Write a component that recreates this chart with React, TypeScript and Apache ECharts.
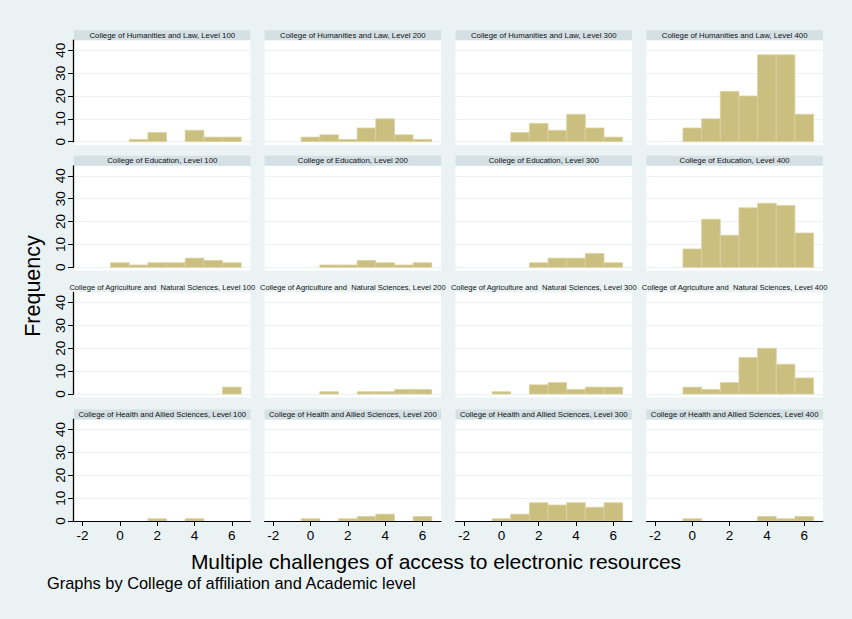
import React, { useEffect, useRef } from "react";
import * as echarts from "echarts";

// ---- data (bins centred on integers 0..6, width 1) ----
const bins = [0, 1, 2, 3, 4, 5, 6];
const levels = ["100", "200", "300", "400"];
const colleges = [
  "College of Humanities and Law",
  "College of Education",
  "College of Agriculture and  Natural Sciences",
  "College of Health and Allied Sciences",
];
const humanities = [
  [0, 1, 4, 0, 5, 2, 2],
  [2, 3, 1, 6, 10, 3, 1],
  [0, 4, 8, 5, 12, 6, 2],
  [6, 10, 22, 20, 38, 38, 12],
];
const education = [
  [2, 1, 2, 2, 4, 3, 2],
  [0, 1, 1, 3, 2, 1, 2],
  [0, 0, 2, 4, 4, 6, 2],
  [8, 21, 14, 26, 28, 27, 15],
];
const agriculture = [
  [0, 0, 0, 0, 0, 0, 3],
  [0, 1, 0, 1, 1, 2, 2],
  [1, 0, 4, 5, 2, 3, 3],
  [3, 2, 5, 16, 20, 13, 7],
];
const health = [
  [0, 0, 1, 0, 1, 0, 0],
  [1, 0, 1, 2, 3, 0, 2],
  [1, 3, 8, 7, 8, 6, 8],
  [1, 0, 0, 0, 2, 1, 2],
];
const counts = [humanities, education, agriculture, health];
const yTicks = [0, 10, 20, 30, 40];
const xTicks = [-2, 0, 2, 4, 6];

const xTitle = "Multiple challenges of access to electronic resources";
const yTitle = "Frequency";
const note = "Graphs by College of affiliation and Academic level";

// ---- layout / style ----
const FONT = "'Liberation Sans', Arial, sans-serif";
const colLefts = [74, 264.6, 455.5, 646.4];
const zeroYs = [141.7, 267.3, 394, 521];
const panelW = 176.5;
const panelH = 101.5;
const stripH = 10;
const BG = "#EAF2F3";
const STRIP = "#D5E0E5";
const BAR = "#CBBF7F";
const BAR_EDGE = "#DAD2A2";

export default function App() {
  const ref = useRef<HTMLDivElement>(null);
  useEffect(() => {
    if (!ref.current) return;
    const chart = echarts.init(ref.current, undefined, { renderer: "svg" });
    const grids: any[] = [];
    const xAxes: any[] = [];
    const yAxes: any[] = [];
    const series: any[] = [];
    const graphics: any[] = [];
    let idx = 0;
    for (let r = 0; r < 4; r++) {
      for (let c = 0; c < 4; c++) {
        const left = colLefts[c];
        const top = zeroYs[r] - panelH;
        grids.push({
          left,
          top,
          width: panelW,
          height: panelH,
          show: true,
          backgroundColor: "#fff",
          borderWidth: 0,
          containLabel: false,
        });
        const bottomRow = r === 3;
        xAxes.push({
          type: "value",
          gridIndex: idx,
          min: -2.46,
          max: 7.0,
          z: 7,
          show: bottomRow,
          axisLine: {
            show: bottomRow,
            onZero: false,
            lineStyle: { color: "#000", width: 1 },
          },
          axisTick: {
            show: bottomRow,
            customValues: xTicks,
            length: 5,
            lineStyle: { color: "#000" },
          },
          axisLabel: {
            show: bottomRow,
            customValues: xTicks,
            fontSize: 13.5,
            color: "#000",
            fontFamily: FONT,
            margin: 7,
          },
          splitLine: { show: false },
        });
        const leftCol = c === 0;
        yAxes.push({
          type: "value",
          gridIndex: idx,
          position: "left",
          offset: 1,
          min: 0,
          max: 44.4,
          interval: 10,
          z: 5,
          axisLine: {
            show: leftCol,
            onZero: false,
            lineStyle: { color: "#000", width: 1.3 },
          },
          axisTick: {
            show: leftCol,
            customValues: yTicks,
            length: 5,
            lineStyle: { color: "#000" },
          },
          axisLabel: {
            show: leftCol,
            customValues: yTicks,
            rotate: 90,
            fontSize: 13.5,
            color: "#000",
            fontFamily: FONT,
            margin: 6,
          },
          splitLine: { show: true, lineStyle: { color: BG, width: 1 } },
        });
        const vals = counts[r][c];
        const data = bins
          .map((b, i) => [b, vals[i]])
          .filter((d) => d[1] > 0);
        series.push({
          type: "custom",
          xAxisIndex: idx,
          yAxisIndex: idx,
          z: 6,
          data,
          renderItem: (params: any, api: any) => {
            const x = api.value(0);
            const y = api.value(1);
            const p1 = api.coord([x - 0.5, y]);
            const p2 = api.coord([x + 0.5, 0]);
            return {
              type: "rect",
              shape: {
                x: p1[0],
                y: p1[1],
                width: p2[0] - p1[0],
                height: p2[1] - p1[1],
              },
              style: { fill: BAR, stroke: BAR_EDGE, lineWidth: 0.8 },
            };
          },
        });
        if (!bottomRow) {
          graphics.push({
            type: "rect",
            shape: { x: left, y: zeroYs[r], width: panelW, height: 3.5 },
            style: { fill: "#fff" },
            silent: true,
          });
        }
        if (r !== 2) {
          graphics.push({
            type: "rect",
            shape: { x: left, y: top - stripH, width: panelW, height: stripH },
            style: { fill: STRIP },
            silent: true,
          });
        }
        graphics.push({
          type: "text",
          x: left + panelW / 2,
          y: top - stripH / 2,
          style: {
            text: `${colleges[r]}, Level ${levels[c]}`,
            fontSize: r === 2 ? 7.6 : 7.8,
            fontFamily: FONT,
            fill: "#111",
            align: "center",
            verticalAlign: "middle",
          },
          silent: true,
        });
        idx++;
      }
    }
    graphics.push({
      type: "text",
      x: 33,
      y: 286,
      rotation: Math.PI / 2,
      style: {
        text: yTitle,
        fontSize: 21.5,
        fontFamily: FONT,
        fill: "#000",
        align: "center",
        verticalAlign: "middle",
      },
    });
    graphics.push({
      type: "text",
      x: 436,
      y: 561,
      style: {
        text: xTitle,
        fontSize: 21,
        fontFamily: FONT,
        fill: "#000",
        align: "center",
        verticalAlign: "middle",
      },
    });
    graphics.push({
      type: "text",
      x: 47,
      y: 583,
      style: {
        text: note,
        fontSize: 16.4,
        fontFamily: FONT,
        fill: "#000",
        align: "left",
        verticalAlign: "middle",
      },
    });
    chart.setOption({
      animation: false,
      backgroundColor: BG,
      grid: grids,
      xAxis: xAxes,
      yAxis: yAxes,
      series,
      graphic: graphics,
    });
    return () => chart.dispose();
  }, []);
  return (
    <div
      ref={ref}
      style={{ position: "absolute", left: 0, top: 0, width: 852, height: 619 }}
    />
  );
}
